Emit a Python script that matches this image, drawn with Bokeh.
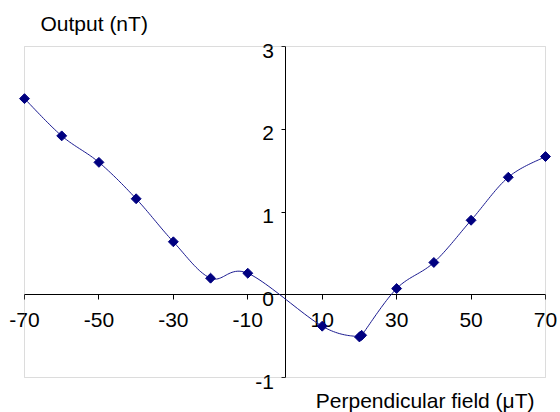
import numpy as np
from bokeh.plotting import figure
from bokeh.models import (LinearAxis, FixedTicker, Range1d, Label, BoxAnnotation,
                          CustomJSTickFormatter)
from bokeh.embed import file_html
from bokeh.resources import INLINE

# Data (perpendicular field in uT, output in nT)
field = [-70, -60, -50, -40, -30, -20, -10, 10, 20, 20.6, 30, 40, 50, 60, 70]
output = [2.37, 1.92, 1.60, 1.16, 0.64, 0.20, 0.26, -0.38, -0.51, -0.49, 0.075, 0.39, 0.90, 1.42, 1.67]

x_ticks = [-70, -50, -30, -10, 10, 30, 50, 70]
y_ticks = [-1, 0, 1, 2, 3]

FONT = "Liberation Sans"
W, H = 560, 412
# plot-area box in canvas pixels
PL, PR, PT, PB = 24, 545, 46, 377

x0, x1 = x_ticks[0], x_ticks[-1]
y0, y1 = y_ticks[0], y_ticks[-1]
ux = (x1 - x0) / (PR - PL)
uy = (y1 - y0) / (PB - PT)
xr = Range1d(x0 - PL * ux, x1 + (W - PR) * ux)
yr = Range1d(y0 - (H - PB) * uy, y1 + PT * uy)
shift = 4 * uy  # y tick labels sit a little below their ticks


def smooth(xs, ys, n=24):
    pts = np.column_stack([xs, ys]).astype(float)
    ext = np.vstack([pts[0], pts, pts[-1]])
    out = []
    t = np.linspace(0, 1, n)[:, None]
    for i in range(1, len(ext) - 2):
        p0, p3 = ext[i], ext[i + 1]
        c1 = p0 + (ext[i + 1] - ext[i - 1]) / 6.0
        c2 = p3 - (ext[i + 2] - ext[i]) / 6.0
        seg = ((1 - t) ** 3) * p0 + 3 * ((1 - t) ** 2) * t * c1 + 3 * (1 - t) * t ** 2 * c2 + t ** 3 * p3
        out.append(seg if i == 1 else seg[1:])
    arr = np.vstack(out)
    return arr[:, 0], arr[:, 1]


p = figure(width=W, height=H, output_backend="svg", toolbar_location=None,
           x_range=xr, y_range=yr, x_axis_location=None, y_axis_location=None,
           min_border=0)
p.extra_y_ranges = {"lab": Range1d(yr.start + shift, yr.end + shift)}
p.grid.visible = False
p.outline_line_color = None
p.background_fill_color = "white"
p.border_fill_color = "white"

fmt = CustomJSTickFormatter(code="return tick.toFixed(0);")

# plot-area border
p.add_layout(BoxAnnotation(left=x0, right=x1, bottom=y0, top=y1, fill_alpha=0,
                           line_color="#8c8c8c", line_width=1, level="underlay"))

xa = LinearAxis(fixed_location=0, ticker=FixedTicker(ticks=x_ticks), formatter=fmt,
                bounds=(x0, x1))
xa.axis_line_color = "black"
xa.major_tick_line_color = "black"
xa.major_tick_out = 5
xa.major_tick_in = 0
xa.minor_tick_line_color = None
xa.major_label_standoff = 13
xa.major_label_text_font = FONT
xa.major_label_text_font_size = "21px"
xa.major_label_text_color = "black"
xa.level = "underlay"
p.add_layout(xa, "below")

ya = LinearAxis(fixed_location=0, ticker=FixedTicker(ticks=y_ticks), bounds=(y0, y1))
ya.axis_line_color = "black"
ya.major_tick_line_color = "black"
ya.major_tick_out = 4
ya.major_tick_in = 0
ya.minor_tick_line_color = None
ya.major_label_text_color = None
ya.level = "underlay"
p.add_layout(ya, "left")

yl = LinearAxis(fixed_location=0, ticker=FixedTicker(ticks=y_ticks), formatter=fmt,
                y_range_name="lab")
yl.axis_line_color = None
yl.major_tick_line_color = None
yl.major_tick_out = 0
yl.major_tick_in = 0
yl.minor_tick_line_color = None
yl.major_label_standoff = 11
yl.major_label_text_font = FONT
yl.major_label_text_font_size = "21px"
yl.major_label_text_color = "black"
yl.level = "underlay"
p.add_layout(yl, "left")

sx, sy = smooth(field, output)
p.line(sx, sy, line_color="#1a1a90", line_width=1)
p.scatter(field, output, marker="square", angle=np.pi / 4, size=7,
          fill_color="#000080", line_color="#000080")

p.add_layout(Label(x=40, y=H - 23, x_units="screen", y_units="screen", text="Output (nT)",
                   text_font=FONT, text_font_size="21px", text_baseline="middle",
                   text_align="left", text_color="black"))
p.add_layout(Label(x=534, y=H - 400, x_units="screen", y_units="screen",
                   text="Perpendicular field (\u03bcT)",
                   text_font=FONT, text_font_size="21px", text_baseline="middle",
                   text_align="right", text_color="black"))

open("out.html", "w").write(file_html(p, INLINE))
